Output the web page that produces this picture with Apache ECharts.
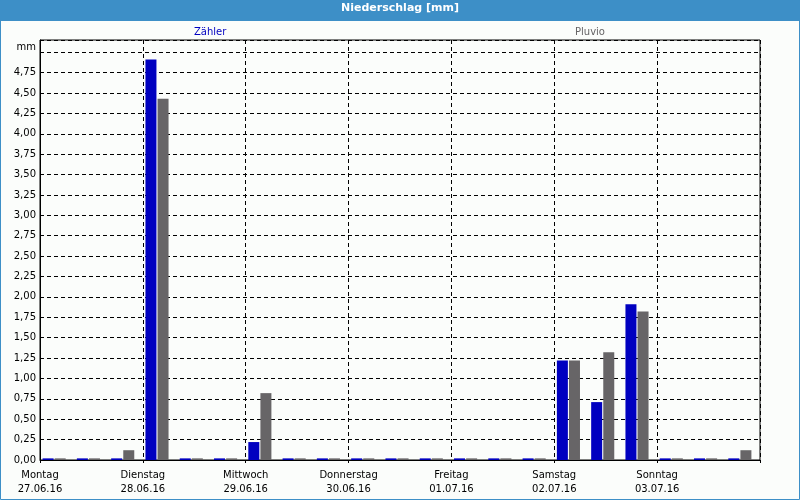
<!DOCTYPE html>
<html><head><meta charset="utf-8">
<script src="https://cdn.jsdelivr.net/npm/echarts@6/dist/echarts.min.js"></script>
<style>html,body{margin:0;padding:0;background:#fbfdfb}#c{width:800px;height:500px}</style>
</head><body><div id="c"></div>
<script>
const dayNames = ['Montag','Dienstag','Mittwoch','Donnerstag','Freitag','Samstag','Sonntag'];
const dayDates = ['27.06.16','28.06.16','29.06.16','30.06.16','01.07.16','02.07.16','03.07.16'];
const slots = [
  '27.06. 00-08','27.06. 08-16','27.06. 16-24',
  '28.06. 00-08','28.06. 08-16','28.06. 16-24',
  '29.06. 00-08','29.06. 08-16','29.06. 16-24',
  '30.06. 00-08','30.06. 08-16','30.06. 16-24',
  '01.07. 00-08','01.07. 08-16','01.07. 16-24',
  '02.07. 00-08','02.07. 08-16','02.07. 16-24',
  '03.07. 00-08','03.07. 08-16','03.07. 16-24'
];
const zaehler = [0.02,0.02,0.02, 4.91,0.02,0.02, 0.22,0.02,0.02, 0.02,0.02,0.02, 0.02,0.02,0.02, 1.22,0.71,1.91, 0.02,0.02,0.02];
const pluvio  = [0.02,0.02,0.12, 4.43,0.02,0.02, 0.82,0.02,0.02, 0.02,0.02,0.02, 0.02,0.02,0.02, 1.22,1.32,1.82, 0.02,0.02,0.12];
const yMax = 5.15, yStep = 0.25;

const FONT = 'DejaVu Sans';
const dash = [4,3];
const chart = echarts.init(document.getElementById('c'), null, {renderer:'canvas'});
chart.setOption({
  backgroundColor:'#fbfdfb',
  animation:false,
  graphic:[
    {type:'rect', z:0, shape:{x:0,y:0,width:800,height:21}, style:{fill:'#3d8fc7'}},
    {type:'rect', z:0, shape:{x:0.5,y:0.5,width:799,height:499}, style:{fill:null, stroke:'#3d8fc7', lineWidth:1}}
  ],
  title:{text:'Niederschlag [mm]', left:'center', top:3, z:10, padding:0,
    textStyle:{color:'#fff', fontWeight:'bold', fontSize:11, fontFamily:FONT}},
  legend:[
    {data:['Zähler'], left:184, top:21, itemWidth:0, itemHeight:12, icon:'rect', selectedMode:false,
      textStyle:{color:'#0000c0', fontSize:10, fontFamily:FONT}},
    {data:['Pluvio'], left:565, top:21, itemWidth:0, itemHeight:12, icon:'rect', selectedMode:false,
      textStyle:{color:'#666466', fontSize:10, fontFamily:FONT}}
  ],
  grid:[
    {left:40, right:40, top:40, bottom:40, show:true, borderColor:'#000', borderWidth:1, backgroundColor:'transparent'},
    {left:37, right:43, top:40, bottom:40, show:false}
  ],
  xAxis:[
    {type:'value', gridIndex:0, min:0, max:7, interval:1,
      axisLine:{lineStyle:{color:'#000'}},
      axisTick:{show:true, length:3, lineStyle:{color:'#000'}},
      axisLabel:{color:'#000', fontSize:10, fontFamily:FONT, lineHeight:14, margin:8,
        formatter:v => v < 7 ? dayNames[v] + '\n' + dayDates[v] : ''},
      splitLine:{show:true, lineStyle:{color:'#000', type:dash}}},
    {type:'category', gridIndex:1, data:slots, boundaryGap:true, show:false}
  ],
  yAxis:[
    {type:'value', gridIndex:0, min:0, max:yMax, interval:yStep,
      name:'mm', nameLocation:'end', nameGap:-7,
      nameTextStyle:{color:'#000', fontSize:10, fontFamily:FONT, align:'right', verticalAlign:'middle', padding:[0,4,0,0]},
      axisLine:{show:true, lineStyle:{color:'#000'}},
      axisTick:{show:false},
      axisLabel:{color:'#000', fontSize:10, fontFamily:FONT, margin:4,
        formatter:v => v > 4.9 ? '' : v.toFixed(2).replace('.', ',')},
      splitLine:{show:true, lineStyle:{color:'#000', type:dash}}},
    {type:'value', gridIndex:1, min:0, max:yMax, interval:yStep, show:false, splitLine:{show:false}}
  ],
  series:[
    {name:'Zähler', type:'bar', xAxisIndex:1, yAxisIndex:1, data:zaehler, barWidth:11, barGap:'10%',
      itemStyle:{color:'#0000c0'}},
    {name:'Pluvio', type:'bar', xAxisIndex:1, yAxisIndex:1, data:pluvio, barWidth:11, barGap:'10%',
      itemStyle:{color:'#676567'}}
  ]
});
</script></body></html>
